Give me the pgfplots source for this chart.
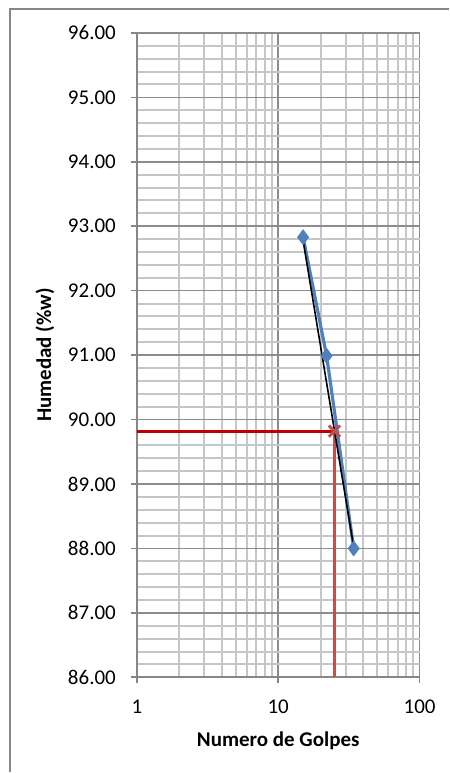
\documentclass[border=0pt]{standalone}
\usepackage{pgfplots}
\pgfplotsset{compat=1.18}
\usepackage{fontspec}
\setmainfont{Carlito}
\definecolor{serblue}{HTML}{4F81BD}
\definecolor{redA}{HTML}{C00000}
\definecolor{redB}{HTML}{C0504D}
\definecolor{gridmin}{HTML}{C6C6C6}
\definecolor{gridmaj}{HTML}{8C8C8C}
\definecolor{axgray}{HTML}{868686}
\begin{document}
\begin{tikzpicture}
\begin{axis}[
  xmode=log,
  scale only axis,
  width=141.5pt, height=322.5pt,
  xmin=1, xmax=100, ymin=86, ymax=96,
  xtick={1,10,100},
  xticklabels={1,10,100},
  minor xtick={2,3,4,5,6,7,8,9,20,30,40,50,60,70,80,90},
  ytick={86,87,88,89,90,91,92,93,94,95,96},
  minor ytick={86.2,86.4,86.6,86.8,87.2,87.4,87.6,87.8,88.2,88.4,88.6,88.8,89.2,89.4,89.6,89.8,90.2,90.4,90.6,90.8,91.2,91.4,91.6,91.8,92.2,92.4,92.6,92.8,93.2,93.4,93.6,93.8,94.2,94.4,94.6,94.8,95.2,95.4,95.6,95.8},
  yticklabel style={/pgf/number format/fixed,/pgf/number format/fixed zerofill,/pgf/number format/precision=2},
  /pgf/number format/assume math mode=true,
  ticklabel style={font=\fontsize{10.5}{12}\selectfont},
  grid=both,
  major grid style={gridmaj, line width=0.8pt},
  minor grid style={gridmin, line width=1pt},
  axis line style={axgray, line width=0.8pt},
  axis x line*=bottom, axis y line*=left,
  major tick length=3pt, minor tick length=0pt,
  tick style={axgray, line width=0.8pt},
  tick align=outside,
  yticklabel style={xshift=-4pt},
  xticklabel style={yshift=-5pt},
  xlabel={\textbf{Numero de Golpes}},
  ylabel={\textbf{Humedad (\%w)}},
  label style={font=\fontsize{10.5}{12}\selectfont},
  xlabel style={yshift=-2pt},
  clip=false,
]
% red guide lines
\addplot[redA, line width=1.5pt] coordinates {(1,89.82) (25,89.82)};
\addplot[redB, line width=1.5pt] coordinates {(25,86) (25,89.82)};
% data series
\addplot[serblue, line width=1.6pt, mark=diamond*, mark size=3.6pt,
  mark options={fill=serblue, draw=serblue, line width=0.5pt}]
  coordinates {(15,92.83) (22,90.99) (34.2,88.00)};
% trend line
\addplot[black, line width=0.8pt] coordinates {(15,92.78) (34.2,88.02)};
% interpolated point
\addplot[redB, only marks, mark=x, mark size=4pt, line width=1.5pt]
  coordinates {(25,89.82)};
\coordinate (SW) at (rel axis cs:0,0);
\end{axis}
\draw[axgray, line width=0.8pt] ([xshift=-63.5pt,yshift=-47.5pt]SW) -- ([xshift=-63.5pt,yshift=334.5pt]SW) -- ([xshift=156pt,yshift=334.5pt]SW);
\useasboundingbox ([xshift=-68.5pt,yshift=-47.5pt]SW) rectangle ([xshift=156pt,yshift=339pt]SW);
\end{tikzpicture}
\end{document}
